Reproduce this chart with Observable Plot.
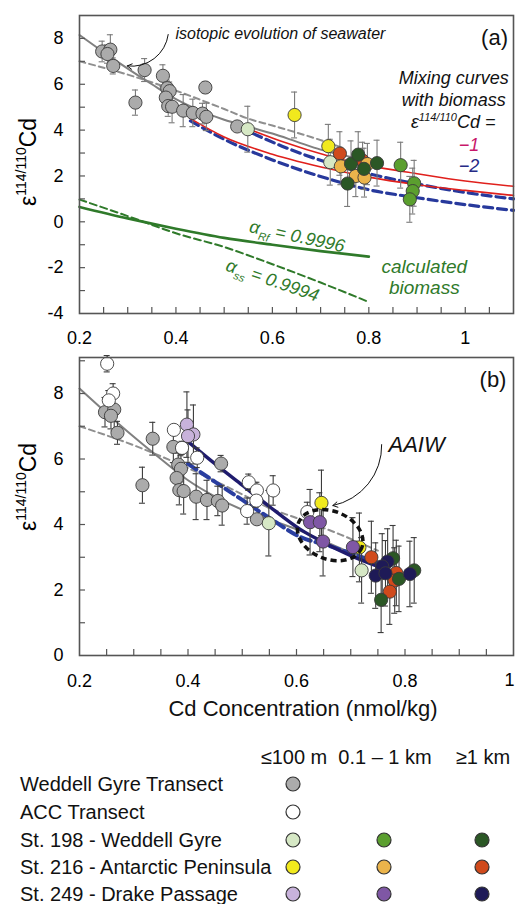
<!DOCTYPE html>
<html><head><meta charset="utf-8">
<script src="https://cdn.jsdelivr.net/npm/d3@7"></script>
<script src="https://cdn.jsdelivr.net/npm/@observablehq/plot@0.6"></script>
<style>
body{margin:0;background:#fff;}
#wrap{position:relative;width:515px;height:904px;overflow:hidden;}
#wrap svg{display:block}
</style></head><body><div id="wrap"></div>
<script>
const FONT = '"Liberation Sans", Arial, Helvetica, sans-serif';

// ---- categories / colours ----
const groupKeys   = ["wg","acc","198s","198m","198d","216s","216m","216d","249s","249m","249d"];
const groupColors = ["#ababab","#ffffff","#d6e8c5","#5b9f2f","#2b5725","#f1e91d","#ebb44b","#d04a1c","#c8b2db","#7f57a5","#1e1a57"];

// ---- points: [Cd (nmol/kg), ε114/110Cd, ±error] ----
const weddellTransect = [[0.247,7.43,0.45],[0.264,7.51,0.65],[0.258,7.32,0.4],[0.27,6.8,0.35],[0.316,5.2,0.55],[0.335,6.62,0.5],[0.373,6.37,0.48],[0.382,5.83,0.35],[0.387,5.7,0.4],[0.379,5.42,0.3],[0.384,5.05,0.45],[0.392,5.02,0.7],[0.415,4.85,0.7],[0.435,4.75,0.6],[0.461,5.86,0.25],[0.455,4.72,0.45],[0.463,4.58,0.6],[0.527,4.16,0.15]];
const accTransect = [[0.251,8.91,0.25],[0.262,8.0,0.3],[0.254,7.79,0.3],[0.374,6.89,0.15],[0.389,6.34,0.2],[0.417,6.04,0.3],[0.512,5.29,0.25],[0.527,5.04,0.25],[0.526,4.73,0.2],[0.557,5.04,0.45],[0.509,4.41,0.4],[0.62,4.38,0.3]];
// panel (a)
const a198s = [[0.549,4.04,1.0],[0.72,2.6,1.0]];
const a198m = [[0.866,2.47,1.0],[0.894,1.68,1.0],[0.891,1.34,1.0],[0.885,0.98,1.0]];
const a198d = [[0.763,2.53,1.0],[0.778,2.93,1.0],[0.79,2.31,0.9],[0.756,1.67,1.0],[0.817,2.56,1.0]];
const a216s = [[0.646,4.66,1.0],[0.716,3.3,0.95]];
const a216m = [[0.742,2.42,0.8],[0.797,2.52,0.9],[0.773,2.0,0.9],[0.791,1.93,0.85]];
const a216d = [[0.740,2.98,0.95],[0.787,2.67,0.8]];
// panel (b)
const b198s = [[0.549,4.04,1.0],[0.72,2.6,1.0]];
const b198d = [[0.778,2.97,1.0],[0.789,2.34,1.0],[0.817,2.6,1.0],[0.756,1.7,1.0]];
const b216s = [[0.646,4.66,1.0],[0.716,3.3,1.05]];
const b216d = [[0.738,3.0,1.1],[0.784,2.52,1.0],[0.781,2.29,1.0],[0.772,1.95,1.0]];
const b249s = [[0.398,7.05,1.0],[0.41,6.75,0.9],[0.4,6.7,0.8]];
const b249m = [[0.625,4.07,1.0],[0.643,4.07,0.9],[0.649,3.48,1.05],[0.704,3.31,0.9]];
const b249d = [[0.768,2.87,1.0],[0.758,2.72,1.0],[0.746,2.44,1.0],[0.764,2.51,1.0],[0.809,2.49,1.0]];

// ---- curves: [Cd, ε] ----
const seawaterSolid  = [[0.2,8.15],[0.25,7.4],[0.3,6.68],[0.35,6.0],[0.4,5.35],[0.45,4.85],[0.5,4.45],[0.55,4.15],[0.6,3.85],[0.65,3.5],[0.7,3.15],[0.77,2.8]];
const seawaterDashed = [[0.2,7.0],[0.3,6.42],[0.4,5.72],[0.5,4.92],[0.55,4.5],[0.6,4.2],[0.68,3.7],[0.75,3.2]];
const mixRedUpper  = [[0.55,4.05],[0.62,3.5],[0.72,2.85],[0.8,2.45],[0.9,2.1],[1.0,1.78],[1.1,1.55]];
const mixRedLower  = [[0.43,4.5],[0.5,3.7],[0.6,2.95],[0.72,2.3],[0.8,1.95],[0.9,1.62],[1.0,1.37],[1.1,1.15]];
const mixBlueUpper = [[0.56,3.85],[0.62,3.3],[0.72,2.55],[0.8,2.1],[0.9,1.65],[1.0,1.28],[1.1,1.0]];
const mixBlueLower = [[0.43,4.4],[0.5,3.6],[0.6,2.7],[0.72,1.85],[0.8,1.4],[0.9,1.05],[1.0,0.75],[1.1,0.5]];
const biomassRf = [[0.2,0.65],[0.3,0.15],[0.4,-0.3],[0.5,-0.7],[0.6,-1.0],[0.7,-1.28],[0.8,-1.52]];
const biomassSs = [[0.2,0.97],[0.3,0.25],[0.4,-0.5],[0.5,-1.1],[0.6,-1.85],[0.7,-2.65],[0.8,-3.5]];
const mixNavyB  = [[0.395,6.6],[0.45,5.85],[0.5,5.2],[0.55,4.55],[0.607,3.85],[0.65,3.45],[0.7,3.05],[0.75,2.72]];
const mixBlueB  = [[0.40,5.85],[0.45,5.3],[0.5,4.75],[0.55,4.2],[0.607,3.62],[0.66,3.35],[0.72,3.0],[0.755,2.8]];

// ---- ticks ----
const aXLabels = [0.2,0.4,0.6,0.8,1];
const aXTicks  = [0.25,0.3,0.35,0.4,0.45,0.5,0.55,0.6,0.65,0.7,0.75,0.8,0.85,0.9,0.95,1,1.05];
const aYLabels = [-4,-2,0,2,4,6,8];
const aYTicks  = [-3,-2,-1,0,1,2,3,4,5,6,7,8];
const bXLabels = [0.2,0.4,0.6,0.8];
const bXEndLabel = 1;
const bXTicks  = [0.25,0.3,0.35,0.4,0.45,0.5,0.55,0.6,0.65,0.7,0.75,0.8,0.85,0.9,0.95];
const bYLabels = [0,2,4,6,8];
const bYTicks  = [1,2,3,4,5,6,7,8,9];

// ---- legend ----
const legendHeaders = ["≤100 m","0.1 – 1 km","≥1 km"];
const legendRows = ["Weddell Gyre Transect","ACC Transect","St. 198 - Weddell Gyre","St. 216 - Antarctic Peninsula","St. 249 - Drake Passage"];
const legendKeys = [["wg"],["acc"],["198s","198m","198d"],["216s","216m","216d"],["249s","249m","249d"]];

// ---- annotation anchors (data units) ----
const isoArrow = [{x1:0.384,y1:8.17,x2:0.299,y2:6.8}];
const aaiwArrow = [{x1:0.757,y1:6.44,x2:0.667,y2:4.58}];
const aaiwEllipse = {x:0.663, y:3.66};

const color = d3.scaleOrdinal(groupKeys, groupColors);
const rows = (list, g) => list.map(([x, y, e]) => ({x, y, e, g}));

function panel({xDomain, yDomain, height, marginTop, marginBottom, xTicks, xLabels, yTicks, yLabels, xPad, curves, points, errColor, extra}) {
  return Plot.plot({
    width: 515, height, marginLeft: 79, marginRight: 2, marginTop, marginBottom,
    x: {domain: xDomain}, y: {domain: yDomain},
    color: {domain: groupKeys, range: groupColors},
    style: {fontFamily: FONT, fontSize: "18px", color: "#000", background: "#fff"},
    marks: [
      ...curves.map(c => Plot.line(c.data, {x: d => d[0], y: d => d[1], stroke: c.stroke, strokeWidth: c.width, strokeDasharray: c.dash, curve: "monotone-x"})),
      Plot.ruleX(points, {x: "x", y1: d => d.y - d.e, y2: d => d.y + d.e, stroke: errColor, strokeWidth: 1.1}),
      Plot.ruleY(points, {y: d => d.y + d.e, x1: "x", x2: "x", insetLeft: -3, insetRight: -3, stroke: errColor, strokeWidth: 1.1}),
      Plot.ruleY(points, {y: d => d.y - d.e, x1: "x", x2: "x", insetLeft: -3, insetRight: -3, stroke: errColor, strokeWidth: 1.1}),
      Plot.dot(points, {x: "x", y: "y", fill: "g", r: 6.6, stroke: "#3a3a3a", strokeWidth: 0.9}),
      Plot.frame({stroke: "#555", strokeWidth: 1.6}),
      Plot.ruleX(xTicks, {x: d => d, y1: yDomain[0], y2: yDomain[0], insetTop: -6, stroke: "#555", strokeWidth: 1.2}),
      Plot.ruleY(yTicks, {y: d => d, x1: xDomain[0], x2: xDomain[0], insetRight: -6, stroke: "#555", strokeWidth: 1.2}),
      Plot.axisX({ticks: xLabels, tickSize: 0, tickPadding: xPad, tickFormat: d => String(+(+d).toFixed(2)), fontSize: 18, label: null}),
      Plot.axisY({ticks: yLabels, tickSize: 0, tickPadding: 16, tickFormat: d => String(d), fontSize: 18, label: null}),
      ...extra
    ]
  });
}

const txt = (x, y, t, o) => Plot.text([{x, y, t}], {x: "x", y: "y", text: "t", fontFamily: FONT, ...o});

// ---------- panel (a) ----------
const pointsA = [
  ...rows(weddellTransect, "wg"), ...rows(a198s, "198s"), ...rows(a216s, "216s"),
  ...rows(a216d, "216d"), ...rows(a216m, "216m"), ...rows(a198d, "198d"), ...rows(a198m, "198m")
];
const green = "#2f7a2a";
const chartA = panel({
  xDomain: [0.2, 1.1], yDomain: [-4, 9], height: 350, marginTop: 15, marginBottom: 37,
  xTicks: aXTicks, xLabels: aXLabels, yTicks: aYTicks, yLabels: aYLabels, xPad: 17.5,
  errColor: "#7a7a7a", points: pointsA,
  curves: [
    {data: biomassRf, stroke: green, width: 2.6},
    {data: biomassSs, stroke: green, width: 2, dash: "7,4"},
    {data: seawaterDashed, stroke: "#8f8f8f", width: 2, dash: "6,4"},
    {data: seawaterSolid, stroke: "#808080", width: 2},
    {data: mixBlueLower, stroke: "#27399c", width: 3.2, dash: "9,5"},
    {data: mixBlueUpper, stroke: "#27399c", width: 3.2, dash: "9,5"},
    {data: mixRedLower, stroke: "#e0201c", width: 1.6},
    {data: mixRedUpper, stroke: "#e0201c", width: 1.6}
  ],
  extra: [
    Plot.arrow(isoArrow, {x1: "x1", y1: "y1", x2: "x2", y2: "y2", bend: 45, stroke: "#111", strokeWidth: 1, headLength: 8}),
    txt(0.399, 8.21, "isotopic evolution of seawater", {textAnchor: "start", fontSize: 16, fontStyle: "italic", fill: "#111"}),
    txt(1.0885, 8.04, "(a)", {textAnchor: "end", fontSize: 22, fill: "#111"}),
    txt(0.976, 6.25, "Mixing curves", {fontSize: 18, fontStyle: "italic", fill: "#111"}),
    txt(0.976, 5.29, "with biomass", {fontSize: 18, fontStyle: "italic", fill: "#111"}),
    txt(1.0076, 3.33, "−1", {fontSize: 18, fontStyle: "italic", fill: "#c8186a"}),
    txt(1.0076, 2.41, "−2", {fontSize: 18, fontStyle: "italic", fill: "#262a86"}),
    txt(0.915, -1.95, "calculated", {fontSize: 19, fontStyle: "italic", fill: green}),
    txt(0.915, -2.88, "biomass", {fontSize: 19, fontStyle: "italic", fill: green})
  ]
});

// ---------- panel (b) ----------
const pointsB = [
  ...rows(weddellTransect, "wg"), ...rows(accTransect, "acc"), ...rows(b198s, "198s"),
  ...rows(b249s, "249s"), ...rows(b216s, "216s"), ...rows(b249m, "249m"),
  ...rows(b216d, "216d"), ...rows(b198d, "198d"), ...rows(b249d, "249d")
];
const chartB = panel({
  xDomain: [0.2, 1.0], yDomain: [0, 9.1], height: 372, marginTop: 7, marginBottom: 67,
  xTicks: bXTicks, xLabels: bXLabels, yTicks: bYTicks, yLabels: bYLabels, xPad: 18.5,
  errColor: "#3c3c3c", points: pointsB,
  curves: [
    {data: seawaterDashed, stroke: "#8f8f8f", width: 2, dash: "6,4"},
    {data: seawaterSolid, stroke: "#808080", width: 2},
    {data: mixBlueB, stroke: "#2a3ea0", width: 4, dash: "10,5"},
    {data: mixNavyB, stroke: "#1f1b6e", width: 3.4}
  ],
  extra: [
    Plot.text([bXEndLabel], {x: d => d, y: 0, text: d => String(d), dy: 25, dx: -4, fontSize: 18, fontFamily: FONT, fill: "#000"}),
    Plot.arrow(aaiwArrow, {x1: "x1", y1: "y1", x2: "x2", y2: "y2", bend: 40, stroke: "#111", strokeWidth: 1, headLength: 8}),
    txt(0.987, 8.4, "(b)", {textAnchor: "end", fontSize: 22, fill: "#111"}),
    txt(0.7696, 6.44, "AAIW", {textAnchor: "start", fontSize: 22, fontStyle: "italic", fill: "#111"})
  ]
});

// rich text helper (super/subscripts)
function richText(svg, x, y, parts, {anchor = "middle", size = 18, fill = "#000", italic = false, rotate = 0} = {}) {
  const t = d3.select(svg).append("text")
    .attr("transform", `translate(${x},${y}) rotate(${rotate})`)
    .attr("text-anchor", anchor).attr("dy", "0.35em")
    .attr("font-family", FONT).attr("font-size", size).attr("fill", fill)
    .attr("font-style", italic ? "italic" : "normal");
  let shift = 0;
  for (const [s, kind] of parts) {
    const ts = t.append("tspan").text(s);
    const target = kind === "sup" ? -0.42 * size : kind === "sub" ? 0.3 * size : 0;
    if (target !== shift) ts.attr("dy", target - shift);
    if (kind) ts.attr("font-size", Math.round(size * 0.62));
    shift = target;
  }
  return t;
}
const epsParts = [["ε"], ["114/110", "sup"], ["Cd"]];

// panel (a) extras
{
  const sx = chartA.scale("x"), sy = chartA.scale("y");
  richText(chartA, 28, 162, epsParts, {size: 23, rotate: -90});
  richText(chartA, sx.apply(0.976), sy.apply(4.33), [["ε"], ["114/110", "sup"], ["Cd ="]], {size: 18, italic: true, fill: "#111"});
  richText(chartA, sx.apply(0.6526), sy.apply(-0.64), [["α"], ["Rf", "sub"], [" = 0.9996"]], {size: 18, italic: true, fill: green, rotate: 12});
  richText(chartA, sx.apply(0.6017), sy.apply(-2.56), [["α"], ["ss", "sub"], [" = 0.9994"]], {size: 18, italic: true, fill: green, rotate: 19});
}
// panel (b) extras
{
  const sx = chartB.scale("x"), sy = chartB.scale("y");
  const ex = sx.apply(aaiwEllipse.x), ey = sy.apply(aaiwEllipse.y);
  d3.select(chartB).append("ellipse")
    .attr("cx", ex).attr("cy", ey).attr("rx", 34).attr("ry", 24)
    .attr("transform", `rotate(22 ${ex} ${ey})`)
    .attr("fill", "none").attr("stroke", "#111").attr("stroke-width", 3.5).attr("stroke-dasharray", "6,4");
  richText(chartB, 28, 137, epsParts, {size: 23, rotate: -90});
  d3.select(chartB).append("text").attr("x", 303).attr("y", 358).attr("dy", "0.35em")
    .attr("text-anchor", "middle").attr("font-family", FONT).attr("font-size", 22).attr("fill", "#111")
    .text("Cd Concentration (nmol/kg)");
}

// ---------- legend ----------
const legend = d3.create("svg").attr("width", 515).attr("height", 182)
  .attr("font-family", FONT).attr("font-size", 20).attr("fill", "#111");
const colX = [294, 385, 483];
legend.selectAll("text.h").data(legendHeaders).join("text").attr("class", "h")
  .attr("x", (d, i) => colX[i]).attr("y", 35).attr("dy", "0.35em").attr("text-anchor", "middle").text(d => d);
const rowY = [62, 90, 118, 145, 172];
legendRows.forEach((label, i) => {
  legend.append("text").attr("x", 20).attr("y", rowY[i]).attr("dy", "0.35em").text(label);
  legendKeys[i].forEach((k, j) => {
    legend.append("circle").attr("cx", colX[j] - 1).attr("cy", rowY[i]).attr("r", 7)
      .attr("fill", color(k)).attr("stroke", "#333").attr("stroke-width", 1.2);
  });
});

const wrap = document.getElementById("wrap");
wrap.append(chartA, chartB, legend.node());
</script>
</body></html>
